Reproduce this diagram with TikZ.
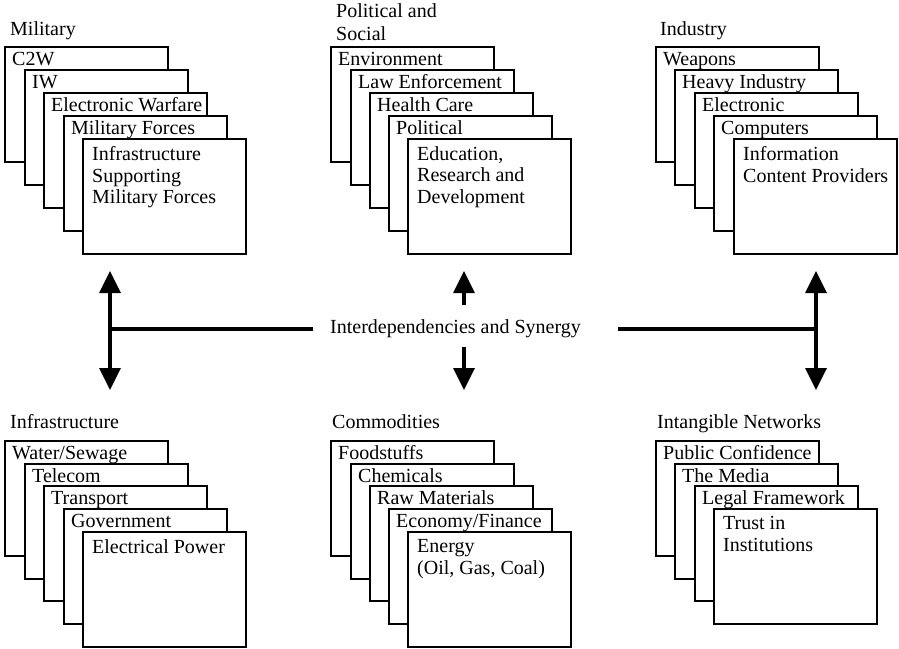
\documentclass[tikz,border=0pt]{standalone}
\usepackage{fontspec}
\setmainfont{Liberation Serif}
\usetikzlibrary{arrows.meta}

% one sheet of a stack: a white box with its name in the top strip
\newcommand\layer[4]{%
  \node[layerbox] (#1) at (#2,#3) {};
  \node[layerlabel] (#1-label) at ([xshift=7pt,yshift=-18.5pt]#1.north west) {#4};}
% the front sheet of a stack, whose text may run over several lines
\newcommand\frontlayer[4]{%
  \node[layerbox] (#1) at (#2,#3) {};
  \node[fronttext] (#1-label) at ([xshift=9pt,yshift=-7.3pt]#1.north west) {#4};}

\tikzset{
  layerbox/.style={draw, fill=white, line width=1.4pt, minimum width=163pt,
    minimum height=115pt, anchor=north west, inner sep=0pt, outer sep=0pt},
  layerlabel/.style={anchor=base west, inner sep=0pt,
    font=\fontsize{20}{21.5}\selectfont},
  fronttext/.style={anchor=north west, inner sep=0pt, align=left,
    font=\fontsize{20}{21.5}\selectfont},
  grouptitle/.style={inner sep=0pt, align=left,
    font=\fontsize{20}{23.5}\selectfont},
  link/.style={line width=3.5pt},
}

\begin{document}
\begin{tikzpicture}[x=1pt, y=-1pt, >={Triangle[width=21pt,length=22pt]}]
\useasboundingbox (0,0) rectangle (899,648);

% ---- Military ----
\node[grouptitle, anchor=base west] (military) at (10,35) {Military};
\layer{c2w}{5}{47}{C2W}
\layer{iw}{25}{70}{IW}
\layer{ew}{44}{93}{Electronic Warfare}
\layer{mf}{64}{116}{Military Forces}
\frontlayer{ismf}{83}{139}{Infrastructure\\Supporting\\Military Forces}

% ---- Political and Social ----
\node[grouptitle, anchor=north west] (political) at (336,3.3) {Political and\\Social};
\layer{env}{331}{47}{Environment}
\layer{law}{351}{70}{Law Enforcement}
\layer{health}{370}{93}{Health Care}
\layer{pol}{389}{116}{Political}
\frontlayer{edu}{408}{139}{Education,\\Research and\\Development}

% ---- Industry ----
\node[grouptitle, anchor=base west] (industry) at (660,35) {Industry};
\layer{weapons}{656}{47}{Weapons}
\layer{heavy}{675}{70}{Heavy Industry}
\layer{electronic}{695}{93}{Electronic}
\layer{computers}{714}{116}{Computers}
\frontlayer{info}{734}{139}{Information\\Content Providers}

% ---- Infrastructure ----
\node[grouptitle, anchor=base west] (infra) at (10,428) {Infrastructure};
\layer{water}{5}{441}{Water/Sewage}
\layer{telecom}{25}{464}{Telecom}
\layer{transport}{44}{486}{Transport}
\layer{gov}{64}{509}{Government}
\frontlayer{power}{83}{532}{Electrical Power}

% ---- Commodities ----
\node[grouptitle, anchor=base west] (commodities) at (332,428) {Commodities};
\layer{food}{331}{441}{Foodstuffs}
\layer{chem}{351}{464}{Chemicals}
\layer{raw}{370}{486}{Raw Materials}
\layer{econ}{389}{509}{Economy/Finance}
\frontlayer{energy}{408}{532}{Energy\\(Oil, Gas, Coal)}

% ---- Intangible Networks ----
\node[grouptitle, anchor=base west] (intangible) at (657,428) {Intangible Networks};
\layer{public}{656}{441}{Public Confidence}
\layer{media}{675}{464}{The Media}
\layer{legal}{695}{486}{Legal Framework}
\frontlayer{trust}{714}{509}{Trust in\\Institutions}

% ---- centre: interdependencies ----
\node[inner sep=0pt, font=\fontsize{20}{21.5}\selectfont] (hub) at (455.5,329) {Interdependencies and Synergy};

\coordinate (lt) at (110,271);
\coordinate (lb) at (110,390);
\coordinate (lj) at (110,329);
\coordinate (le) at (313,329);
\coordinate (mu) at (464,305);
\coordinate (mt) at (464,271);
\coordinate (md) at (464,347);
\coordinate (mb) at (464,390);
\coordinate (rt) at (816,271);
\coordinate (rb) at (816,390);
\coordinate (rj) at (816,329);
\coordinate (rs) at (618,329);

\draw[link, <->] (lt) -- (lb);
\draw[link] (lj) -- (le);
\draw[link, ->] (mu) -- (mt);
\draw[link, ->] (md) -- (mb);
\draw[link, <->] (rt) -- (rb);
\draw[link] (rs) -- (rj);
\end{tikzpicture}
\end{document}
